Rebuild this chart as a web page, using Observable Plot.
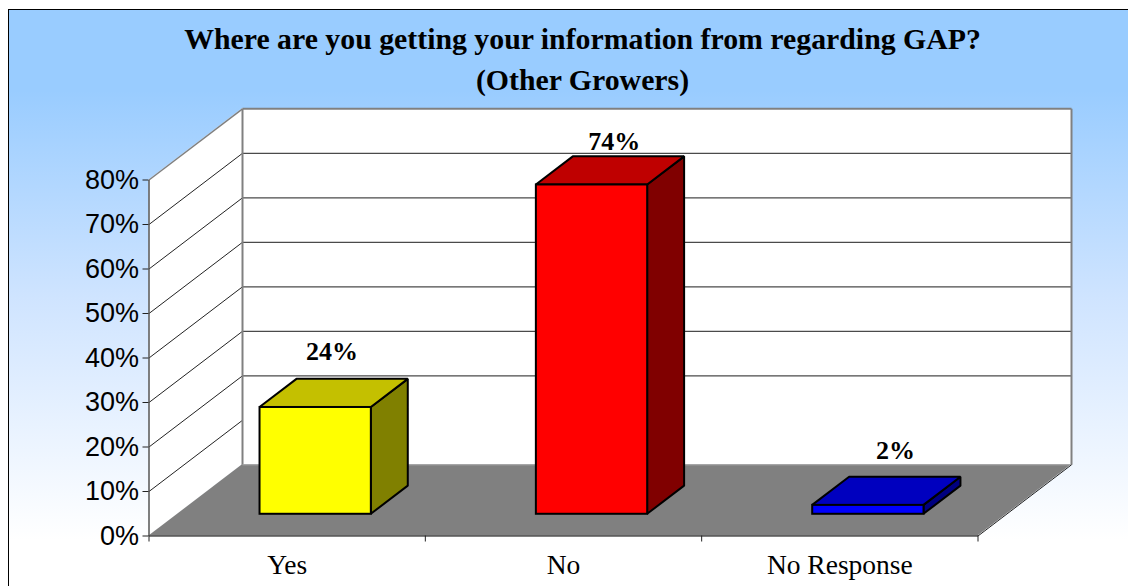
<!DOCTYPE html>
<html>
<head>
<meta charset="utf-8">
<script src="https://cdn.jsdelivr.net/npm/d3@7"></script>
<script src="https://cdn.jsdelivr.net/npm/@observablehq/plot@0.6"></script>
<style>
html,body{margin:0;padding:0;background:#fff;overflow:hidden}
#chart{position:relative;width:1128px;height:586px;overflow:hidden}
#panel{position:absolute;left:8px;top:9px;width:1120px;height:577px;box-sizing:border-box;
  border-left:1.5px solid #000;border-top:1.5px solid #000;
  background:linear-gradient(to bottom,#99ccff 0%,#99ccff 14%,#cfe4ff 50%,#ffffff 92%)}
#title{position:absolute;left:0;top:18px;width:1165px;text-align:center;
  font:bold 29.8px/41px "Liberation Serif",serif;color:#000;margin:0}
svg{position:absolute;left:0;top:0;background:transparent!important}
</style>
</head>
<body>
<div id="chart"><div id="panel"></div>
<h1 id="title">Where are you getting your information from regarding GAP?<br>(Other Growers)</h1>
</div>
<script>
const categories = ["Yes", "No", "No Response"];
const shares = [24, 74, 2];
const yTicks = [0, 10, 20, 30, 40, 50, 60, 70, 80];

// Style of the three bar faces and of the labels above them
const frontFill = ["#ffff00", "#ff0000", "#0000ff"];
const topFill = ["#c4c000", "#bf0000", "#0000bf"];
const sideFill = ["#808000", "#800000", "#000080"];
const labelDx = [-2, 4, 9];
const labelDy = [-42, -29, -41];

// Oblique projection: one unit of depth in x and y data units
const depthX = 0.3384, depthY = 16;
const dFront = 0.305, dBack = 0.70, barIn = 0.2986;
const xMax = categories.length, yMax = 80;
const gridColor = "#4a4a4a", wallEdge = "#808080";

const barMarks = shares.flatMap((v, i) => {
  const a = i + barIn, b = i + 1 - barIn;
  const fx = dFront * depthX, bx = dBack * depthX, fy = dFront * depthY, by = dBack * depthY;
  const edge = {stroke: "#000", strokeWidth: 2, strokeLinejoin: "miter"};
  return [
    Plot.areaY([{x: b + fx, lo: fy, hi: fy + v}, {x: b + bx, lo: by, hi: by + v}],
      {x: "x", y1: "lo", y2: "hi", fill: sideFill[i], ...edge}),
    Plot.areaX([{y: fy + v, l: a + fx, r: b + fx}, {y: by + v, l: a + bx, r: b + bx}],
      {y: "y", x1: "l", x2: "r", fill: topFill[i], ...edge}),
    Plot.rect([{l: a + fx, r: b + fx, lo: fy, hi: fy + v}],
      {x1: "l", x2: "r", y1: "lo", y2: "hi", fill: frontFill[i], ...edge}),
    Plot.text([{x: i + 0.5 + 0.5 * depthX, y: v + 0.5 * depthY, t: v + "%"}],
      {x: "x", y: "y", text: "t", dx: labelDx[i], dy: labelDy[i], fontSize: 26, fontWeight: "bold",
       fontFamily: "Liberation Serif", fill: "#000"})
  ];
});

const plot = Plot.plot({
  width: 1128, height: 586,
  marginLeft: 148.5, marginRight: 150.5, marginTop: 108, marginBottom: 50.5,
  style: {background: "transparent", color: "#000"},
  x: {type: "linear", domain: [0, xMax], range: [148.5, 977.5]},
  y: {type: "linear", domain: [0, yMax], range: [535.5, 179.5]},
  marks: [
    // back wall
    Plot.rect([0], {x1: depthX, x2: xMax + depthX, y1: depthY, y2: yMax + depthY, fill: "#fff"}),
    // side wall
    Plot.areaY([{x: 0, lo: 0, hi: yMax}, {x: depthX, lo: depthY, hi: yMax + depthY}],
      {x: "x", y1: "lo", y2: "hi", fill: "#fff"}),
    // floor
    Plot.areaX([{y: 0, l: 0, r: xMax}, {y: depthY, l: depthX, r: xMax + depthX}],
      {y: "y", x1: "l", x2: "r", fill: "#808080"}),
    // gridlines on side and back walls
    Plot.link(yTicks.slice(1, -1), {x1: 0, y1: d => d, x2: depthX, y2: d => d + depthY, stroke: "#222", strokeWidth: 1}),
    Plot.link(yTicks.slice(2, -1), {x1: depthX, y1: d => d + depthY, x2: xMax + depthX, y2: d => d + depthY, stroke: gridColor, strokeWidth: 1.3}),
    // wall edges
    Plot.link([yMax], {x1: 0, y1: d => d, x2: depthX, y2: d => d + depthY, stroke: wallEdge, strokeWidth: 1.5}),
    Plot.link([0], {x1: depthX, y1: depthY, x2: depthX, y2: yMax + depthY, stroke: wallEdge, strokeWidth: 2}),
    Plot.link([0], {x1: depthX, y1: yMax + depthY, x2: xMax + depthX, y2: yMax + depthY, stroke: wallEdge, strokeWidth: 2}),
    Plot.link([0], {x1: xMax + depthX, y1: depthY, x2: xMax + depthX, y2: yMax + depthY, stroke: wallEdge, strokeWidth: 2}),
    Plot.link([0], {x1: depthX, y1: depthY, x2: xMax + depthX, y2: depthY, stroke: "#aaa", strokeWidth: 1}),
    // front floor edges and left axis line
    Plot.link([0], {x1: 0, y1: 0, x2: xMax, y2: 0, stroke: "#000", strokeWidth: 1.2}),
    Plot.link([0], {x1: xMax, y1: 0, x2: xMax + depthX, y2: depthY, stroke: "#222", strokeWidth: 1}),
    Plot.link([0], {x1: 0, y1: 0, x2: 0, y2: yMax, stroke: "#555", strokeWidth: 1.5}),
    // axes
    Plot.axisY({anchor: "left", ticks: yTicks, tickSize: 6, tickPadding: 4, tickFormat: d => d + "%",
      fontSize: 27, fontFamily: "Liberation Sans", label: null, stroke: "#222"}),
    Plot.axisX({anchor: "bottom", ticks: d3.range(0, xMax + 1), tickSize: 6, tickFormat: () => "", label: null, stroke: "#222"}),
    Plot.axisX({anchor: "bottom", ticks: categories.map((_, i) => i + 0.5), tickSize: 0, tickPadding: 18,
      tickFormat: d => categories[d - 0.5], fontSize: 27.5, fontFamily: "Liberation Serif", label: null}),
    ...barMarks
  ]
});
document.getElementById("chart").appendChild(plot);
</script>
</body>
</html>
